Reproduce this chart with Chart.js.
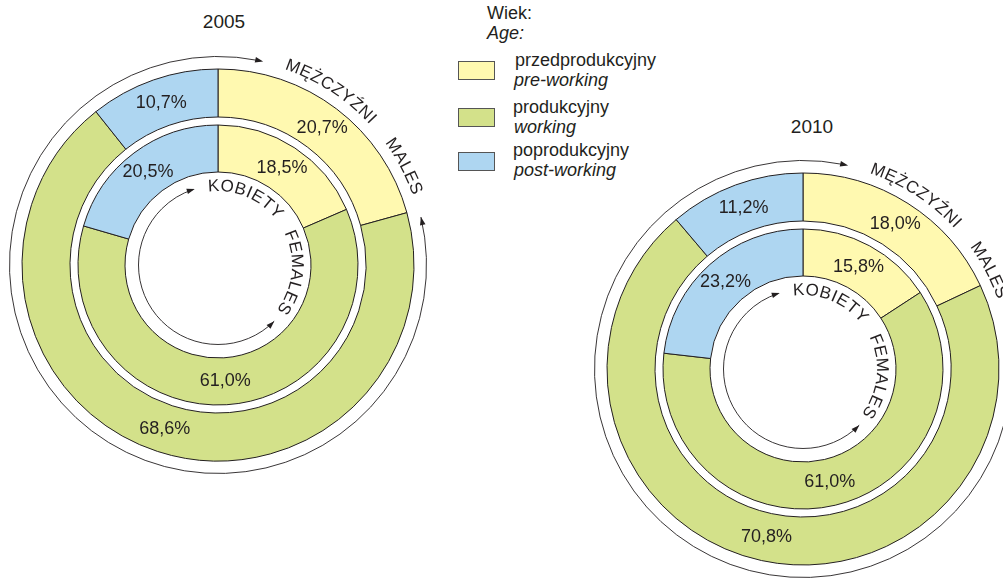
<!DOCTYPE html>
<html>
<head>
<meta charset="utf-8">
<script src="https://cdn.jsdelivr.net/npm/chart.js@4.4.1/dist/chart.umd.min.js"></script>
<style>
  html, body { margin: 0; padding: 0; background: #fff; }
  body { width: 1003px; height: 578px; position: relative; overflow: hidden;
         font-family: "Liberation Sans", Arial, sans-serif; color: #231f20; }
  canvas { position: absolute; }
  .txt { position: absolute; white-space: nowrap; font-size: 18px; line-height: 18px; }
  .it { font-style: italic; }
  .title { position: absolute; width: 100px; text-align: center; font-size: 19px; line-height: 19px; }
  .box { position: absolute; left: 458px; width: 35px; height: 17px; border: 1px solid #555; }
</style>
</head>
<body>
<div class="title" style="left:174px;top:12px">2005</div>
<div class="title" style="left:762px;top:117px">2010</div>
<div id="legend"></div>
<canvas id="chart2005" width="460" height="460" style="left:-12px;top:35px"></canvas>
<canvas id="chart2010" width="460" height="460" style="left:573px;top:139px"></canvas>
<script>
// kategorie wieku
var categories = ['przedprodukcyjny', 'produkcyjny', 'poprodukcyjny'];
var categoriesEn = ['pre-working', 'working', 'post-working'];
var colors = ['#fff9b0', '#d3e18a', '#aed6f1'];

// udzial w %
var males2005 = [20.7, 68.6, 10.7];
var females2005 = [18.5, 61.0, 20.5];
var males2010 = [18.0, 70.8, 11.2];
var females2010 = [15.8, 61.0, 23.2];

var ink = '#231f20';

// legenda
var legend = document.getElementById('legend');
var html = '<div class="txt" style="left:487px;top:4px">Wiek:</div>' +
           '<div class="txt it" style="left:487px;top:24px">Age:</div>';
var boxTops = [61, 108, 152];
var textTops = [51, 98, 141];
categories.forEach(function(c, i) {
    html += '<div class="box" style="top:' + boxTops[i] + 'px;background:' + colors[i] + '"></div>';
    html += '<div class="txt" style="left:' + (i == 0 ? 515 : 513) + 'px;top:' + textTops[i] + 'px">' + c + '</div>';
    html += '<div class="txt it" style="left:514px;top:' + (textTops[i] + 19.5) + 'px">' + categoriesEn[i] + '</div>';
});
legend.innerHTML = html;

function rad(d) { return d * Math.PI / 180; }

function arrowHead(ctx, x, y, ang) {
    ctx.save();
    ctx.translate(x, y);
    ctx.rotate(ang);
    ctx.beginPath();
    ctx.moveTo(0, 0);
    ctx.lineTo(-8, -2.8);
    ctx.lineTo(-8, 2.8);
    ctx.closePath();
    ctx.fill();
    ctx.restore();
}

// okrag z przerwa na napis i strzalkami
function ringArrows(ctx, cx, cy, r, gapStart, gapEnd) {
    var a0 = rad(gapEnd), a1 = rad(gapStart + 360);
    ctx.beginPath();
    ctx.arc(cx, cy, r, a0, a1 - 0.02);
    ctx.stroke();
    arrowHead(ctx, cx + r * Math.cos(a1), cy + r * Math.sin(a1), a1 + Math.PI / 2);
    arrowHead(ctx, cx + r * Math.cos(a0), cy + r * Math.sin(a0), a0 - Math.PI / 2);
}

function arcText(ctx, cx, cy, r, text, startDeg, endDeg, size) {
    var chars = Array.from(text);
    var widths = chars.map(function(c) { return ctx.measureText(c).width; });
    var total = widths.reduce(function(a, b) { return a + b; }, 0);
    var gap = (rad(endDeg - startDeg) * r - total) / (chars.length - 1);
    var a = rad(startDeg);
    chars.forEach(function(c, i) {
        var mid = a + widths[i] / 2 / r;
        ctx.save();
        ctx.translate(cx + r * Math.cos(mid), cy + r * Math.sin(mid));
        ctx.rotate(mid + Math.PI / 2);
        ctx.fillText(c, 0, size * 0.36);
        ctx.restore();
        a += (widths[i] + gap) / r;
    });
}

var decorPlugin = {
    id: 'decor',
    afterDraw: function(chart) {
        var ctx = chart.ctx;
        var arc0 = chart.getDatasetMeta(0).data[0];
        var cx = arc0.x, cy = arc0.y;
        ctx.save();
        ctx.strokeStyle = ink;
        ctx.fillStyle = ink;
        ctx.lineWidth = 0.9;
        ringArrows(ctx, cx, cy, 208.5, -77.5, -13.3);
        ringArrows(ctx, cx, cy, 79.5, -107, 45);

        ctx.font = '17px "Liberation Sans", Arial, sans-serif';
        ctx.textAlign = 'center';
        ctx.textBaseline = 'alphabetic';
        arcText(ctx, cx, cy, 213, 'MĘŻCZYŹNI', -71.2, -42.8, 17);
        arcText(ctx, cx, cy, 213, 'MALES', -36.2, -19.7, 17);
        arcText(ctx, cx, cy, 80, 'KOBIETY', -97.2, -38.4, 17);
        arcText(ctx, cx, cy, 80, 'FEMALES', -25.6, 37, 17);

        // etykiety procentowe
        ctx.font = '18px "Liberation Sans", Arial, sans-serif';
        ctx.textBaseline = 'middle';
        [0, 2].forEach(function(di) {
            var ds = chart.data.datasets[di];
            chart.getDatasetMeta(di).data.forEach(function(el, i) {
                var p = el.getCenterPoint();
                ctx.fillText(ds.data[i].toFixed(1).replace('.', ',') + '%', p.x, p.y);
            });
        });
        ctx.restore();
    }
};

function makeChart(id, males, females) {
    return new Chart(document.getElementById(id), {
        type: 'doughnut',
        data: {
            labels: categories,
            datasets: [{
                data: males,
                backgroundColor: colors,
                borderColor: ink,
                borderWidth: 1,
                weight: 48
            }, {
                data: [100],
                backgroundColor: 'rgba(0,0,0,0)',
                borderWidth: 0,
                weight: 8
            }, {
                data: females,
                backgroundColor: colors,
                borderColor: ink,
                borderWidth: 1,
                weight: 47
            }]
        },
        options: {
            responsive: false,
            animation: false,
            events: [],
            radius: 196,
            cutout: (93 / 196 * 100) + '%',
            layout: { padding: 0 },
            plugins: {
                legend: { display: false },
                tooltip: { enabled: false },
                title: { display: false }
            }
        },
        plugins: [decorPlugin]
    });
}

makeChart('chart2005', males2005, females2005);
makeChart('chart2010', males2010, females2010);
</script>
</body>
</html>
